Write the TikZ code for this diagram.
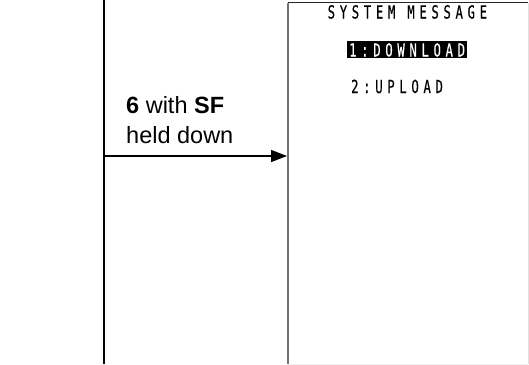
\documentclass[tikz,border=0pt]{standalone}
\usepackage{fontspec}
\setmainfont{Liberation Sans}
\newfontfamily\lcdfont[FakeStretch=0.68,LetterSpace=26,FakeBold=0.4]{DejaVu Sans Mono}
\usetikzlibrary{arrows.meta}
\tikzset{
  label/.style={font=\fontsize{23.5}{27}\selectfont, anchor=base west, inner sep=0pt},
  lcd/.style={font=\lcdfont\fontsize{18}{20}\selectfont, anchor=base west, inner sep=0pt},
  conn/.style={line width=1.5pt, -{Triangle[length=16pt,width=12pt]}},
}
\begin{document}
\begin{tikzpicture}[x=1pt,y=-1pt]
\useasboundingbox (0,0) rectangle (529,364);
% vertical time line
\coordinate (vtop) at (104,0);
\coordinate (vbot) at (104,364);
\draw[line width=1.6pt] (vtop) -- (vbot);
% screen
\node[anchor=north west, minimum width=240pt, minimum height=361.5pt, inner sep=0pt] (screen) at (288,2.5) {};
\draw[line width=1.8pt, black!85] (screen.north west) -- (screen.north east);
\draw[line width=1.8pt, black!55] (screen.north west) -- (screen.south west);
\draw[line width=0.8pt, black!12] (screen.north east) -- (screen.south east);
\draw[line width=0.8pt, black!6] (screen.south west) -- (screen.south east);
% arrow
\coordinate (astart) at (104,156);
\draw[conn] (astart) -- ([xshift=-1pt]screen.west |- astart);
% label
\node[label] (lab1) at (126,113) {\textbf{6} with \textbf{SF}};
\node[label] (lab2) at (126,143) {held down};
% screen contents
\node[lcd] (title) at (327.5,18.5) {SYSTEM MESSAGE};
\node[fill=black, minimum width=120pt, minimum height=16.5pt, inner sep=0pt, anchor=north west] (hl) at (347,41) {};
\node[lcd, text=white] (opt1) at (349,56.5) {1:DOWNLOAD};
\node[lcd] (opt2) at (351,93) {2:UPLOAD};
\end{tikzpicture}
\end{document}
